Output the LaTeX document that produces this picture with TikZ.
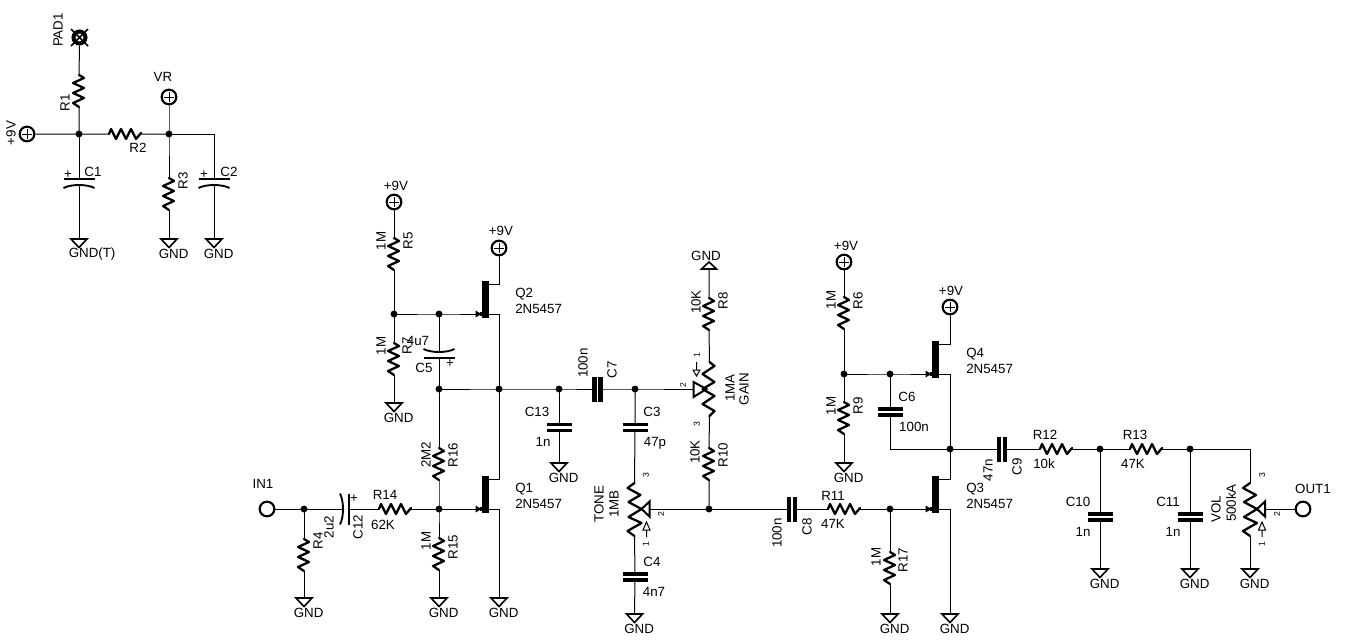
\documentclass[tikz,border=0pt]{standalone}
\usepackage{fontspec}
\setmainfont{Liberation Sans}
\tikzset{
  wire/.style={line width=0.75pt},
  part/.style={line width=1.7pt,line join=round,line cap=round},
  lbl/.style={inner sep=0pt,font=\fontsize{10}{12}\selectfont},
  rlbl/.style={lbl,rotate=90},
  pin/.style={inner sep=0pt,font=\fontsize{6.5}{7}\selectfont,rotate=90},
  jn/.style={circle,fill=black,inner sep=0pt,minimum size=5.2pt},
  termo/.style={circle,draw,line width=1.6pt,inner sep=0pt,minimum size=11pt},
  termp/.style={termo,path picture={
     \draw[line width=0.7pt] ([xshift=-3.5pt]path picture bounding box.center) -- ([xshift=3.5pt]path picture bounding box.center);
     \draw[line width=0.7pt] ([yshift=-3.5pt]path picture bounding box.center) -- ([yshift=3.5pt]path picture bounding box.center);}},
  pics/resv/.style={code={
     \draw[part] (0,-16) -- (5,-13) -- (-6,-8) -- (5,-3) -- (-6,2) -- (5,7) -- (-6,12) -- (0,16);
     \coordinate (-a) at (0,-16); \coordinate (-b) at (0,16);}},
  pics/resh/.style={code={
     \draw[part] (-16,0) -- (-14,-5) -- (-9,5) -- (-4,-5) -- (1,5) -- (6,-5) -- (11,5) -- (16,-1);
     \coordinate (-a) at (-16,0); \coordinate (-b) at (16,0);}},
  pics/capv/.style={code={
     \draw[line width=2.6pt] (-12.5,-3) -- (12.5,-3) (-12.5,3) -- (12.5,3);
     \coordinate (-a) at (0,-3); \coordinate (-b) at (0,3);}},
  pics/caph/.style={code={
     \draw[line width=3.4pt] (-3.2,-12.5) -- (-3.2,12.5) (3.2,-12.5) -- (3.2,12.5);
     \coordinate (-a) at (-3,0); \coordinate (-b) at (3,0);}},
  pics/pcap/.style={code={
     \draw[line width=1.6pt] (-15.5,-4) -- (15.5,-4);
     \draw[line width=1.4pt] (-15.5,5) .. controls (-8,1) and (8,1) .. (15.5,5);
     \coordinate (-a) at (0,-4); \coordinate (-b) at (0,2);}},
  pics/gnd/.style={code={
     \draw[line width=1.2pt,line join=miter] (-8,0) -- (8,0) -- (0,8.5) -- cycle;
     \coordinate (-t) at (0,0);
     \node[lbl,anchor=west] (-txt) at (-10.5,15) {#1};}},
  pics/gnd/.default=GND,
  pics/gndup/.style={code={
     \draw[line width=1.2pt,line join=miter] (-7.5,0) -- (7.5,0) -- (0,-7) -- cycle;
     \coordinate (-t) at (0,0);}},
  pics/jfet/.style={code={
     \fill (-3.5,-33) rectangle (3.5,4);
     \fill (-10,-3.5) -- (-4,0) -- (-10,3.5) -- cycle;
     \fill (-6,-2) rectangle (-3,2);
     \coordinate (-g) at (-3.5,0);
     \coordinate (-s) at (3.5,0);
     \coordinate (-d) at (3.5,-29.5);}},
  pics/potl/.style={code={
     \draw[part] (0,-27) -- (5,-23) -- (-7,-15) -- (5,-7) -- (-7,0) -- (5,7) -- (-7,15) -- (5,22) -- (0,27);
     \draw[line width=1.5pt,line join=miter] (-16,-7) -- (-16,8) -- (-3,0) -- cycle;
     \draw[line width=0.75pt] (-13,-27) -- (-13,-19) (-16.5,-19) -- (-9.5,-19) -- (-13,-13) -- cycle;
     \coordinate (-a) at (0,-27); \coordinate (-b) at (0,27); \coordinate (-w) at (-16,0);}},
  pics/potr/.style={code={
     \draw[part] (0,-26) -- (-7,-21) -- (6,-14) -- (-6,-7) -- (7,0) -- (-6,8) -- (7,14) -- (-7,22) -- (0,27);
     \draw[line width=1.5pt,line join=miter] (15,-7.5) -- (15,7.5) -- (7,0) -- cycle;
     \draw[line width=0.75pt] (12,28) -- (12,21) (8.5,21) -- (15.5,21) -- (12,13) -- cycle;
     \coordinate (-a) at (0,-26); \coordinate (-b) at (0,27); \coordinate (-w) at (15,0);}},
  pics/pad/.style={code={
     \draw[line width=3pt] (0,0) circle (6);
     \draw[line width=1.3pt] (-8.5,-8.5) -- (8.5,8.5) (-8.5,8.5) -- (8.5,-8.5);
     \coordinate (-b) at (0,8);}}
}
\begin{document}
\begin{tikzpicture}[x=0.75pt,y=-0.75pt]
\useasboundingbox (0,0) rectangle (1345,640);
% junctions
\foreach \n/\px/\py in {J1/79/134,J2/169/134,J3/394/314,J4/439/314,J5/439/389,J6/499/389,J7/559/389,J8/635/389,J9/304/509,J10/439/509,J11/709/509,J12/844/374,J13/890/374,J14/950/449,J15/890/509,J16/1100/449,J17/1190/449}
  {\node[jn] (\n) at (\px,\py) {};}
% terminals
\node[termp] (T1) at (27,134) {};
\node[termp] (TVR) at (169,97) {};
\node[termp] (T5) at (394,202) {};
\node[termp] (T2) at (499,248) {};
\node[termp] (T6) at (844,262) {};
\node[termp] (T4) at (950,307) {};
\node[termo] (IN1) at (267,509) {};
\node[termo] (OUT1) at (1303,509) {};
\pic (PAD1) at (79.5,37.5) {pad};
% resistors
\pic (R1) at (79,91) {resv};
\pic (R2) at (125,134) {resh};
\pic (R3) at (169,194) {resv};
\pic (R4) at (304,555) {resv};
\pic (R5) at (394,254) {resv};
\pic (R7) at (394,359) {resv};
\pic (R8) at (709,314) {resv};
\pic (R10) at (709,464) {resv};
\pic (R14) at (395,509) {resh};
\pic (R15) at (439,554) {resv};
\pic (R16) at (439,464) {resv};
\pic (R6) at (844,313) {resv};
\pic (R9) at (844,418) {resv};
\pic (R11) at (844,509) {resh};
\pic (R17) at (890,568) {resv};
\pic (R12) at (1056,449) {resh};
\pic (R13) at (1146,449) {resh};
% capacitors
\pic (C1) at (79,183) {pcap};
\pic (C2) at (214,183) {pcap};
\pic[rotate=180] (C5) at (439,354) {pcap};
\pic[rotate=-90] (C12) at (345,509) {pcap};
\pic (C3) at (635,427.5) {capv};
\pic (C4) at (635,577) {capv};
\pic (C6) at (890,412) {capv};
\pic (C10) at (1100,517) {capv};
\pic (C11) at (1190,517) {capv};
\pic (C13) at (559,427.5) {capv};
\pic (C7) at (597.5,389) {caph};
\pic (C8) at (792,509) {caph};
\pic (C9) at (1002,449) {caph};
% transistors
\pic (Q1) at (485.5,509) {jfet};
\pic (Q2) at (485.5,314) {jfet};
\pic (Q3) at (935.5,509) {jfet};
\pic (Q4) at (935.5,374) {jfet};
% pots
\pic (GAIN) at (709.5,389) {potl};
\pic (TONE) at (634.5,509) {potr};
\pic (VOL) at (1250,509) {potr};
% grounds
\pic (G1) at (79,239) {gnd={GND(T)}};
\pic (G2) at (169,239) {gnd};
\pic (G3) at (214,239) {gnd};
\pic (G4) at (394,403) {gnd};
\pic (G5) at (304,598) {gnd};
\pic (G6) at (439,598) {gnd};
\pic (G7) at (499,598) {gnd};
\pic (G8) at (559,463) {gnd};
\pic (G9) at (634.5,614) {gnd};
\pic (G10) at (844,463) {gnd};
\pic (G11) at (890,614) {gnd};
\pic (G12) at (950,614) {gnd};
\pic (G13) at (1100,569) {gnd};
\pic (G14) at (1190,569) {gnd};
\pic (G15) at (1250,569) {gnd};
\pic (G16) at (709,269) {gndup};
% wires
\draw[wire] (PAD1-b) -- (R1-a) (R1-b) -- (J1.center) (T1) -- (J1.center) -- (R2-a) (R2-b) -- (J2.center);
\draw[wire] (TVR) -- (J2.center) -- (R3-a) (R3-b) -- (G2-t);
\draw[wire] (J1.center) -- (C1-a) (C1-b) -- (G1-t);
\draw[wire] (J2.center) -| (C2-a) (C2-b) -- (G3-t);
\draw[wire] (T5) -- (R5-a) (R5-b) -- (J3.center) -- (J4.center) -- (Q2-g);
\draw[wire] (J3.center) -- (R7-a) (R7-b) -- (G4-t);
\draw[wire] (J4.center) -- (C5-b) (C5-a) -- (J5.center) -- (J6.center) -- (J7.center) -- (C7-a) (C7-b) -- (J8.center) -- (GAIN-w);
\draw[wire] (J5.center) -- (R16-a) (R16-b) -- (J10.center) -- (R15-a) (R15-b) -- (G6-t);
\draw[wire] (J10.center) -- (Q1-g);
\draw[wire] (IN1) -- (J9.center) -- (C12-b) (C12-a) -- (R14-a) (R14-b) -- (J10.center);
\draw[wire] (J9.center) -- (R4-a) (R4-b) -- (G5-t);
\draw[wire] (Q2-d) -| (T2);
\draw[wire] (Q2-s) -| (J6.center);
\draw[wire] (Q1-d) -| (J6.center);
\draw[wire] (Q1-s) -| (G7-t);
\draw[wire] (J7.center) -- (C13-a) (C13-b) -- (G8-t);
\draw[wire] (J8.center) -- (C3-a) (C3-b) -- (TONE-a) (TONE-b) -- (C4-a) (C4-b) -- (G9-t);
\draw[wire] (TONE-w) -- (J11.center) -- (C8-a) (C8-b) -- (R11-a) (R11-b) -- (J15.center) -- (Q3-g);
\draw[wire] (J15.center) -- (R17-a) (R17-b) -- (G11-t);
\draw[wire] (Q3-d) -| (J14.center);
\draw[wire] (Q3-s) -| (G12-t);
\draw[wire] (G16-t) -- (R8-a) (R8-b) -- (GAIN-a) (GAIN-b) -- (R10-a) (R10-b) -- (J11.center);
\draw[wire] (T6) -- (R6-a) (R6-b) -- (J12.center) -- (J13.center) -- (Q4-g);
\draw[wire] (J12.center) -- (R9-a) (R9-b) -- (G10-t);
\draw[wire] (J13.center) -- (C6-a) (C6-b) |- (J14.center);
\draw[wire] (Q4-d) -| (T4);
\draw[wire] (Q4-s) -| (J14.center);
\draw[wire] (J14.center) -- (C9-a) (C9-b) -- (R12-a) (R12-b) -- (J16.center) -- (R13-a) (R13-b) -- (J17.center) -| (VOL-a);
\draw[wire] (J16.center) -- (C10-a) (C10-b) -- (G13-t);
\draw[wire] (J17.center) -- (C11-a) (C11-b) -- (G14-t);
\draw[wire] (VOL-b) -- (G15-t);
\draw[wire] (VOL-w) -- (OUT1);
% labels: power section
\node[rlbl] (lPAD1) at (58,30) {PAD1};
\node[rlbl] (l9a) at (11,133) {+9V};
\node[lbl] (lVR) at (163,77) {VR};
\node[rlbl] (lR1) at (65,103) {R1};
\node[lbl] (lR2) at (138,148) {R2};
\node[rlbl] (lR3) at (183,181) {R3};
\node[lbl] (lC1) at (93,172) {C1};
\node[lbl] (lC2) at (229,172) {C2};
\node[lbl] (pC1) at (68,175) {+};
\node[lbl] (pC2) at (204,175) {+};
% labels: first stage
\node[lbl] (l9b) at (396,186) {+9V};
\node[lbl] (l9c) at (501,231) {+9V};
\node[rlbl] (vR5) at (381,241) {1M};
\node[rlbl] (lR5) at (408,241) {R5};
\node[rlbl] (vR7) at (381,346) {1M};
\node[rlbl] (lR7) at (407,346) {R7};
\node[lbl] (vC5) at (418,341) {4u7};
\node[lbl] (lC5) at (424,368) {C5};
\node[lbl] (pC5) at (450,364) {+};
\node[lbl,anchor=west] (lQ2) at (515,294) {Q2};
\node[lbl,anchor=west] (tQ2) at (515,309) {2N5457};
\node[lbl,anchor=west] (lQ1) at (515,489) {Q1};
\node[lbl,anchor=west] (tQ1) at (515,504) {2N5457};
\node[rlbl] (vR16) at (426,455) {2M2};
\node[rlbl] (lR16) at (453,455) {R16};
\node[rlbl] (vR15) at (426,541) {1M};
\node[rlbl] (lR15) at (453,547) {R15};
\node[lbl] (lIN1) at (263,484) {IN1};
\node[rlbl] (lR4) at (318,541) {R4};
\node[rlbl] (vC12) at (329,527) {2u2};
\node[rlbl] (lC12) at (358,527) {C12};
\node[lbl] (pC12) at (354,499) {+};
\node[lbl] (lR14) at (385,495) {R14};
\node[lbl] (vR14) at (383,525) {62K};
\node[lbl] (lC13) at (537,412) {C13};
\node[lbl] (vC13) at (543,442) {1n};
\node[rlbl] (vC7) at (583,363) {100n};
\node[rlbl] (lC7) at (612,370) {C7};
\node[lbl] (lC3) at (652,412) {C3};
\node[lbl] (vC3) at (655,443) {47p};
\node[lbl] (lC4) at (652,562) {C4};
\node[lbl] (vC4) at (654,592) {4n7};
\node[rlbl] (lTONE) at (599,504) {TONE};
\node[rlbl] (vTONE) at (614,504) {1MB};
\node[pin] (pT3) at (646,475) {3};
\node[pin] (pT2) at (661,514) {2};
\node[pin] (pT1) at (646,544) {1};
\node[lbl] (lG16) at (706,256) {GND};
\node[rlbl] (vR8) at (696,302) {10K};
\node[rlbl] (lR8) at (723,301) {R8};
\node[rlbl] (vR10) at (695,452) {10K};
\node[rlbl] (lR10) at (723,455) {R10};
\node[pin] (pG1) at (697,355) {1};
\node[pin] (pG2) at (683,385) {2};
\node[pin] (pG3) at (697,424) {3};
\node[rlbl] (vGAIN) at (730,388) {1MA};
\node[rlbl] (lGAIN) at (744,389) {GAIN};
\node[rlbl] (vC8) at (777,533) {100n};
\node[rlbl] (lC8) at (807,527) {C8};
\node[lbl] (lR11) at (833,496) {R11};
\node[lbl] (vR11) at (833,524) {47K};
% labels: output stage
\node[lbl] (l9d) at (846,246) {+9V};
\node[lbl] (l9e) at (951,291) {+9V};
\node[rlbl] (vR6) at (831,300) {1M};
\node[rlbl] (lR6) at (858,301) {R6};
\node[rlbl] (vR9) at (831,406) {1M};
\node[rlbl] (lR9) at (858,406) {R9};
\node[lbl,anchor=west] (lQ4) at (966,354) {Q4};
\node[lbl,anchor=west] (tQ4) at (966,369) {2N5457};
\node[lbl,anchor=west] (lQ3) at (966,489) {Q3};
\node[lbl,anchor=west] (tQ3) at (966,504) {2N5457};
\node[lbl] (lC6) at (907,397) {C6};
\node[lbl] (vC6) at (914,427) {100n};
\node[rlbl] (vC9) at (988,470) {47n};
\node[rlbl] (lC9) at (1017,467) {C9};
\node[rlbl] (vR17) at (876,557) {1M};
\node[rlbl] (lR17) at (903,560) {R17};
\node[lbl] (lR12) at (1045,435) {R12};
\node[lbl] (vR12) at (1044,464) {10k};
\node[lbl] (lR13) at (1135,435) {R13};
\node[lbl] (vR13) at (1133,464) {47K};
\node[lbl] (lC10) at (1078,502) {C10};
\node[lbl] (vC10) at (1083,532) {1n};
\node[lbl] (lC11) at (1168,502) {C11};
\node[lbl] (vC11) at (1173,532) {1n};
\node[rlbl] (lVOL) at (1216,509) {VOL};
\node[rlbl] (vVOL) at (1231,503) {500kA};
\node[pin] (pV3) at (1262,475) {3};
\node[pin] (pV2) at (1277,514) {2};
\node[pin] (pV1) at (1262,544) {1};
\node[lbl] (lOUT1) at (1313,489) {OUT1};
\end{tikzpicture}
\end{document}
